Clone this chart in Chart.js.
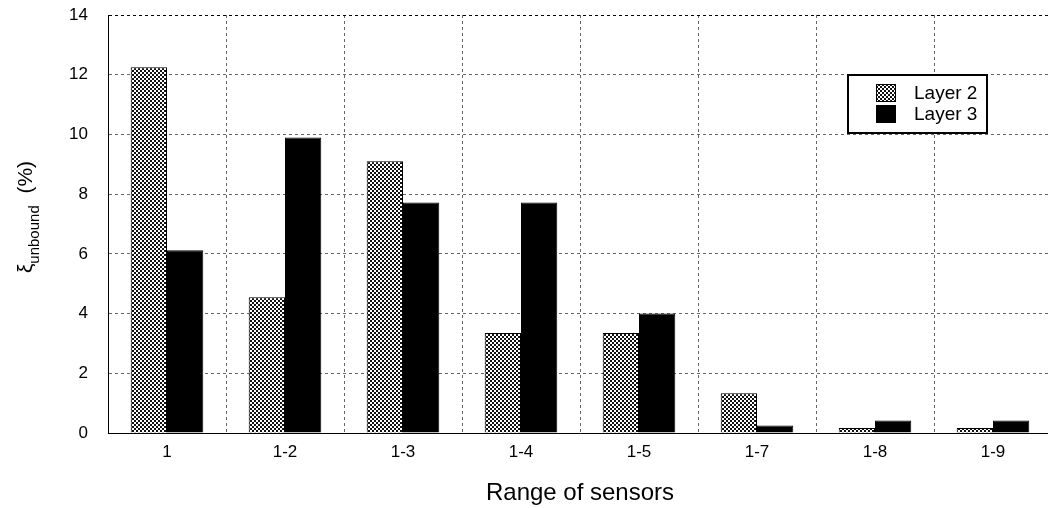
<!DOCTYPE html>
<html>
<head>
<meta charset="utf-8">
<script src="https://cdn.jsdelivr.net/npm/chart.js@4"></script>
<style>
  html, body { margin: 0; padding: 0; background: #fff; overflow: hidden; }
  #wrap { width: 1052px; height: 508px; }
</style>
</head>
<body>
<div id="wrap"><canvas id="barChart"></canvas></div>
<script>
// data
const categories = ['1', '1-2', '1-3', '1-4', '1-5', '1-7', '1-8', '1-9'];
const layer2 = [12.25, 4.55, 9.1, 3.35, 3.35, 1.33, 0.17, 0.17];
const layer3 = [6.12, 9.9, 7.72, 7.72, 4.0, 0.25, 0.42, 0.42];
const yTicks = [0, 2, 4, 6, 8, 10, 12, 14];

const FONT = 'Liberation Sans, Arial, sans-serif';

// crosshatch fill like the gnuplot pattern
function makeHatch() {
    const c = document.createElement('canvas');
    c.width = 4; c.height = 4;
    const g = c.getContext('2d');
    g.fillStyle = '#111';
    g.fillRect(0, 0, 4, 4);
    g.fillStyle = '#fff';
    g.fillRect(0, 0, 2, 2);
    g.fillRect(2, 2, 2, 2);
    return g.createPattern(c, 'repeat');
}
const hatch = makeHatch();

const yTitlePlugin = {
    id: 'yTitle',
    afterDraw(chart) {
        const ctx = chart.ctx;
        const big = '21px ' + FONT, small = '15px ' + FONT;
        ctx.save();
        ctx.font = big;
        const w1 = ctx.measureText('\u03BE').width;
        const w3 = ctx.measureText('  (%)').width;
        ctx.font = small;
        const w2 = ctx.measureText('unbound').width;
        const total = w1 + w2 + w3;
        ctx.translate(26, 217);
        ctx.rotate(-Math.PI / 2);
        ctx.fillStyle = '#000';
        ctx.textBaseline = 'middle';
        let x = -total / 2;
        ctx.font = big;
        ctx.fillText('\u03BE', x, 0);
        x += w1;
        ctx.font = small;
        ctx.fillText('unbound', x, 9);
        x += w2;
        ctx.font = big;
        ctx.fillText('  (%)', x, 0);
        ctx.restore();
    }
};

const legendPlugin = {
    id: 'boxLegend',
    afterDraw(chart) {
        const ctx = chart.ctx;
        ctx.save();
        ctx.fillStyle = '#fff';
        ctx.fillRect(848, 75, 139, 58);
        ctx.strokeStyle = '#000';
        ctx.lineWidth = 2;
        ctx.strokeRect(848, 75, 139, 58);
        ctx.lineWidth = 1;
        ctx.fillStyle = hatch;
        ctx.fillRect(876, 84, 20, 18);
        ctx.strokeRect(876.5, 84.5, 19, 17);
        ctx.fillStyle = '#000';
        ctx.fillRect(876, 105, 20, 18);
        ctx.font = '19px ' + FONT;
        ctx.textBaseline = 'middle';
        ctx.fillText('Layer 2', 914, 94);
        ctx.fillText('Layer 3', 914, 115);
        ctx.restore();
    }
};

const ctx = document.getElementById('barChart');
const barChart = new Chart(ctx, {
    type: 'bar',
    data: {
        labels: categories,
        datasets: [
            {
                label: 'Layer 2',
                data: layer2,
                backgroundColor: hatch,
                borderColor: '#000',
                borderWidth: 1
            },
            {
                label: 'Layer 3',
                data: layer3,
                backgroundColor: '#000',
                borderColor: '#000',
                borderWidth: 1
            }
        ]
    },
    options: {
        responsive: true,
        maintainAspectRatio: false,
        animation: false,
        layout: { padding: 0 },
        datasets: {
            bar: { barPercentage: 1.0, categoryPercentage: 0.615 }
        },
        scales: {
            x: {
                grid: {
                    offset: true,
                    color: '#666',
                    drawTicks: false
                },
                border: { color: '#000', width: 1, dash: [3, 3] },
                ticks: {
                    color: '#000',
                    font: { family: FONT, size: 17 },
                    padding: 9,
                    maxRotation: 0
                },
                title: {
                    display: true,
                    text: 'Range of sensors',
                    color: '#000',
                    font: { family: FONT, size: 24 },
                    padding: { top: 8, bottom: 0 }
                },
                afterFit(s) { s.height = 75; }
            },
            y: {
                min: 0,
                max: 14,
                afterBuildTicks(s) { s.ticks = yTicks.map(v => ({ value: v })); },
                grid: {
                    color: ctx => ctx.tick && ctx.tick.value === 14 ? '#000' : '#666',
                    drawTicks: false
                },
                border: { color: '#000', width: 1, dash: [3, 3] },
                ticks: {
                    color: '#000',
                    font: { family: FONT, size: 17 },
                    padding: 20
                },
                afterFit(s) {
                    s.width = 108;
                    s.paddingTop = 15;
                    s.paddingBottom = 0;
                }
            }
        },
        plugins: {
            legend: { display: false },
            tooltip: { enabled: false }
        }
    },
    plugins: [yTitlePlugin, legendPlugin]
});
</script>
</body>
</html>
